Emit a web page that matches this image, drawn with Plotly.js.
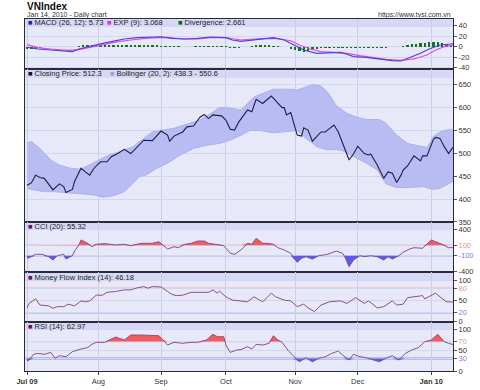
<!DOCTYPE html>
<html><head><meta charset="utf-8">
<script src="https://cdn.plot.ly/plotly-3.0.1.min.js"></script>
<style>html,body{margin:0;padding:0;background:#fff}#chart{width:480px;height:390px}</style>
</head><body><div id="chart"></div>
<script>
// ---- data (x given as day offsets from 2009-07-01) ----
const priceDay = [0,2,4,6,8,10,12,15,17,18,21,22,25,27,29,31,34,37,39,42,45,48,51,54,58,62,65,66,68,72,74,77,80,82,84,86,90,92,94,96,98,102,104,106,109,111,113,115,118,119,120,122,124,125,127,128,130,132,136,138,139,142,144,146,149,151,153,156,158,159,162,165,167,169,171,173,174,176,179,182,183,185,188,189,191,193,195,197];
const closePrice = [430,435,452,447,445,433,420,433,427,414,421,438,467,459,452,467,481,481,492,499,508,499,514,528,527,548,539,526,537,546,557,559,578,584,575,583,581,572,552,550,568,594,590,617,608,617,624,614,599,599,583,588,554,539,537,555,550,526,546,546,550,561,546,522,485,498,515,499,496,498,474,445,459,456,436,452,463,472,494,483,494,494,530,534,532,514,499,512.3];
const upperDay = [0,2,6,11,15,20,25,29,34,38,43,49,54,58,63,68,74,80,85,89,92,99,105,111,114,122,125,129,132,136,139,143,148,152,157,163,166,171,176,180,185,188,191,196,197];
const upperBand = [522,525,510,485,474,467,465,474,486,496,503,514,532,546,550,554,563,572,586,599,599,594,622,633,639,639,637,644,649,646,633,604,586,579,573,573,565,539,521,517,512,536,546,552,550.6];
const lowerDay = [0,3,8,12,18,25,31,35,40,45,49,52,55,60,65,71,77,83,89,94,99,103,108,114,120,125,129,134,139,143,146,151,157,162,166,171,177,183,188,191,194,197];
const lowerBand = [423,420,416,416,414,412,409,404,407,416,434,449,452,467,478,496,510,517,521,528,539,549,549,544,546,549,532,514,507,508,505,492,478,463,433,425,425,427,421,423,430,438.3];

const macdDay = [0,5,11,18,21,24,30,35,39,45,51,58,62,67,73,79,85,92,95,99,105,109,114,119,123,128,134,140,145,148,151,157,163,169,173,177,182,186,191,196,197];
const macdLine = [-1,-4.4,-6.3,-8.2,-9.5,-4.4,1.9,6.3,9.5,14.7,17.1,19,19,16,14.7,16,18.5,17.1,12.8,10,12.8,16,17.1,12.8,4.4,-6.3,-12.6,-11.4,-10.7,-14.5,-19,-20.2,-23.4,-26.7,-27.2,-21,-12.6,-4.4,3.2,5.1,5.73];
const sigDay = [0,5,11,19,24,30,36,42,48,55,61,65,72,79,85,92,96,99,105,111,115,122,126,131,136,142,148,154,160,166,173,179,185,189,193,197];
const sigLine = [4,-1.9,-4.4,-6.9,-5.7,-0.6,4.4,9.5,12.8,16,17.1,17.8,14.7,14.7,17.1,17.1,14.7,12.8,14.7,16,16,11.4,3.2,-4.4,-9.5,-10.7,-12.6,-17.1,-20.2,-24,-25.9,-23.4,-15.8,-6.3,0,3.07];
const divDay = [0,2,4,6,8,10,12,14,16,18,20,22,24,26,28,30,32,34,36,38,40,42,44,46,48,50,52,54,56,58,60,62,64,66,68,70,72,74,76,78,80,82,84,86,88,90,92,94,96,98,100,102,104,106,108,110,112,114,116,118,120,122,124,126,128,130,132,134,136,138,140,142,144,146,148,150,152,154,156,158,160,162,164,166,168,170,172,174,176,178,180,182,184,186,188,190,192,194,196];
const divergence = [-5,-4.5,-4,-2,-1.5,-1.5,-1.5,-1.5,-1.5,-1.5,
 -1.5,-1,1.5,2.5,3,3,3,3.5,3.5,3.5,
 3.5,3.5,3,3,3,3,3,2.5,2.5,2.5,
 2.5,2,1.5,1,1,0.5,-0.5,0.3,0.3,0.5,
 1,1,1.5,1,1,0.5,0.5,-2,-2.5,-2.5,
 -1,-0.5,1.5,2.5,3,3,2.5,2,1.5,-0.5,
 -1.5,-4,-7,-9,-10,-9,-7,-4,-3,-3,
 -2.5,-2,-2,-2.5,-2.5,-2.5,-2.5,-2,-2,-2,
 -2,-2,-2,-2,-1.5,-1.5,-1,2,3.5,4.5,
 5.5,6.5,7.5,8.5,9.5,9,7,5,2.66];

const cciDay = [0,1,4,7,10,12,14,17,18,21,22,24,25,28,30,32,36,41,45,48,53,58,61,63,65,68,70,73,76,79,82,84,87,91,94,96,99,102,104,106,109,111,114,116,119,122,125,127,129,132,135,139,143,146,147,149,151,154,156,159,162,165,167,169,172,174,177,179,183,185,187,189,192,195,197];
const cciVal = [-148,-137,-72,-72,-118,-181,-99,-72,-162,-99,-10,105,200,137,72,118,130,105,118,91,137,137,167,105,28,72,53,118,137,180,180,137,118,91,-53,-72,10,137,118,232,137,137,118,53,10,-53,-224,-148,-118,-162,-99,-72,-10,-53,-120,-308,-181,-99,-118,-99,-118,-181,-118,-162,-99,-34,28,53,42,118,200,167,118,53,55.32];
const mfiDay = [0,1,4,6,10,12,14,17,19,22,25,27,29,32,35,37,41,45,48,51,54,56,58,62,65,67,69,72,76,80,84,86,88,89,92,95,99,102,105,109,111,113,115,119,122,125,128,130,133,136,140,145,148,152,156,158,162,165,169,171,174,176,179,183,184,186,189,191,194,197];
const mfiVal = [32,43,54,39,37,31,35,35,41,37,49,47,49,63,63,70,72,76,76,81,84,80,84,83,72,65,62,63,70,70,70,76,68,73,59,51,48,47,59,47,57,68,59,51,49,35,41,32,23,39,47,49,43,57,43,49,32,35,49,39,41,57,59,62,54,59,68,59,47,46.18];
const rsiDay = [0,1,3,5,8,11,13,15,18,21,25,28,30,32,36,38,41,45,48,53,58,61,63,65,68,72,76,79,83,86,88,91,92,94,97,99,102,104,106,109,112,114,116,118,121,123,126,129,132,135,138,141,144,146,149,151,154,157,160,163,166,169,172,175,178,181,184,187,190,193,195,197];
const rsiVal = [23.8,26,39.7,42,39.7,44.4,30.2,36.5,34,46,52.4,55.6,63.5,68.3,68.3,73.8,81,73.8,85.7,85.7,85.7,84,73.8,61.9,68.3,66,68.3,68.3,73.8,87.3,81.7,81.7,61.9,44.4,50,51,57.9,52.4,63.5,61.9,66,84,73.8,68.3,47.6,38,22,31.7,22,30.2,34,42,47.6,38,26,39.7,34,31.7,26,22,30.2,36.5,26,42,50,55.6,69.8,73.8,87.3,69.8,66,62.97];

const monthTickDay = [0,33,62,92,124,153,187];
const monthTickText = ['<b>Jul 09</b>','Aug','Sep','Oct','Nov','Dec','<b>Jan 10</b>'];

// ---- helpers ----
const BASE = Date.UTC(2009,6,1);
function day(d){ return new Date(BASE + d*86400000).toISOString().replace('T',' ').slice(0,19); }
const dates = a => a.map(day);
const X = px => (px-25)/428, Y = py => (371-py)/352;

const RED='#f25c5c', BLUE='#5a5aee', LRED='#f09090', LBLUE='#7c7ce6', IND='#8a4f92';

function fillTraces(days, vals, level, above, color, xa, ya){
  const xs = dates(days);
  return [
    {x:xs, y:days.map(()=>level), mode:'lines', line:{width:0,color:color}, xaxis:xa, yaxis:ya, hoverinfo:'skip', showlegend:false},
    {x:xs, y:vals.map(v=>above?Math.max(v,level):Math.min(v,level)), mode:'lines', line:{width:0,color:color},
     fill:'tonexty', fillcolor:color, xaxis:xa, yaxis:ya, hoverinfo:'skip', showlegend:false}
  ];
}

const traces = [];
// MACD panel
traces.push({type:'bar', x:dates(divDay), y:divergence, marker:{color:'#0b7a0b'}, width:1.1*86400000, xaxis:'x', yaxis:'y'});
traces.push({x:dates(sigDay), y:sigLine, mode:'lines', line:{color:'#e846e8',width:1.2}, xaxis:'x', yaxis:'y'});
traces.push({x:dates(macdDay), y:macdLine, mode:'lines', line:{color:'#4646d8',width:1.2}, xaxis:'x', yaxis:'y'});
// Price panel
traces.push({x:dates(upperDay).concat(dates(lowerDay).reverse()), y:upperBand.concat(lowerBand.slice().reverse()),
  mode:'lines', fill:'toself', fillcolor:'#b9bbf3', line:{color:'#adb0f0',width:1}, xaxis:'x2', yaxis:'y2'});
traces.push({x:dates(priceDay), y:closePrice, mode:'lines', line:{color:'#1e1e4a',width:1.1}, xaxis:'x2', yaxis:'y2'});
// CCI
traces.push(...fillTraces(cciDay, cciVal, 100, true, RED, 'x3','y3'));
traces.push(...fillTraces(cciDay, cciVal, -100, false, BLUE, 'x3','y3'));
traces.push({x:dates(cciDay), y:cciVal, mode:'lines', line:{color:IND,width:1}, xaxis:'x3', yaxis:'y3'});
// MFI
traces.push({x:dates(mfiDay), y:mfiVal, mode:'lines', line:{color:IND,width:1}, xaxis:'x4', yaxis:'y4'});
// RSI
traces.push(...fillTraces(rsiDay, rsiVal, 70, true, RED, 'x5','y5'));
traces.push(...fillTraces(rsiDay, rsiVal, 30, false, BLUE, 'x5','y5'));
traces.push({x:dates(rsiDay), y:rsiVal, mode:'lines', line:{color:IND,width:1}, xaxis:'x5', yaxis:'y5'});
traces.forEach(t=>{t.showlegend=false; t.hoverinfo='skip';});

const FONT = 'Liberation Sans, Arial, sans-serif';
const xr = [day(-0.93), day(197.05)];
function xax(anchor, show){
  return {type:'date', range:xr, anchor:anchor, domain:[0,1], matches: anchor==='y'?undefined:'x',
    tickvals:dates(monthTickDay), ticktext:monthTickText, showticklabels:show,
    ticks: show?'outside':'', ticklen:3, tickcolor:'#444',
    tickfont:{size:7.5,color:'#333',family:FONT},
    showgrid:true, gridcolor:'#c9cde9', gridwidth:1, zeroline:false,
    showline:true, linecolor:'#2a2a3a', linewidth:1, mirror:true, fixedrange:true};
}
function yax(anchor, dom, range, vals, text){
  return {anchor:anchor, domain:dom, range:range, side:'right', tickvals:vals, ticktext:text||vals.map(String),
    ticks:'outside', ticklen:3, tickcolor:'#555', tickfont:{size:7.5,color:'#333',family:FONT},
    showgrid:true, gridcolor:'#d3d6ef', gridwidth:1, zeroline:false,
    showline:true, linecolor:'#2a2a3a', linewidth:1, mirror:true, fixedrange:true};
}
const col = (t,c)=>'<span style="color:'+c+'">'+t+'</span>';

const layout = {
  width:480, height:390, margin:{l:25,r:27,t:19,b:19},
  paper_bgcolor:'#ffffff', plot_bgcolor:'#e7e9f9', showlegend:false,
  font:{family:FONT, size:7.5, color:'#222'},
  bargap:0,
  xaxis: xax('y', false), xaxis2: xax('y2', false), xaxis3: xax('y3', false), xaxis4: xax('y4', false), xaxis5: xax('y5', true),
  yaxis: yax('x', [0.858,1], [-42.5,52.8], [-40,-20,0,20,40]),
  yaxis2: yax('x2', [0.4233,0.858], [350,683], [350,400,450,500,550,600,650]),
  yaxis3: yax('x3', [0.28125,0.4233], [-408,541], [-400,-100,100,400], ['-400',col('-100',LBLUE),col('100',LRED),'400']),
  yaxis4: yax('x4', [0.1392,0.28125], [-2.4,119.5], [0,20,50,80,100], ['0',col('20',LBLUE),'50',col('80',LRED),'100']),
  yaxis5: yax('x5', [0,0.1392], [0,116.7], [0,30,50,70,100], ['0',col('30',LBLUE),'50',col('70',LRED),'100']),
  shapes: [
    // legend strips
    {type:'rect', xref:'x domain', yref:'y domain', x0:0, x1:1, y0:0.84, y1:1, fillcolor:'#d6d8f6', line:{width:0}, layer:'below'},
    {type:'rect', xref:'x2 domain', yref:'y2 domain', x0:0, x1:1, y0:0.941, y1:1, fillcolor:'#d6d8f6', line:{width:0}, layer:'below'},
    {type:'rect', xref:'x3 domain', yref:'y3 domain', x0:0, x1:1, y0:0.84, y1:1, fillcolor:'#d6d8f6', line:{width:0}, layer:'below'},
    {type:'rect', xref:'x4 domain', yref:'y4 domain', x0:0, x1:1, y0:0.82, y1:1, fillcolor:'#d6d8f6', line:{width:0}, layer:'below'},
    {type:'rect', xref:'x5 domain', yref:'y5 domain', x0:0, x1:1, y0:0.837, y1:1, fillcolor:'#d6d8f6', line:{width:0}, layer:'below'},
    // level lines
    {type:'line', xref:'x3 domain', yref:'y3', x0:0, x1:1, y0:100, y1:100, line:{color:LRED,width:1}, layer:'below'},
    {type:'line', xref:'x3 domain', yref:'y3', x0:0, x1:1, y0:-100, y1:-100, line:{color:LBLUE,width:1}, layer:'below'},
    {type:'line', xref:'x4 domain', yref:'y4', x0:0, x1:1, y0:80, y1:80, line:{color:LRED,width:1}, layer:'below'},
    {type:'line', xref:'x4 domain', yref:'y4', x0:0, x1:1, y0:20, y1:20, line:{color:LBLUE,width:1}, layer:'below'},
    {type:'line', xref:'x5 domain', yref:'y5', x0:0, x1:1, y0:70, y1:70, line:{color:LRED,width:1}, layer:'below'},
    {type:'line', xref:'x5 domain', yref:'y5', x0:0, x1:1, y0:30, y1:30, line:{color:'#a9abf2',width:2.5}, layer:'below'}
  ],
  annotations: [
    {xref:'paper', yref:'paper', x:X(25), y:Y(7), xanchor:'left', yanchor:'middle', showarrow:false, text:'<b>VNIndex</b>', font:{size:10,color:'#111',family:FONT}},
    {xref:'paper', yref:'paper', x:X(25), y:Y(15), xanchor:'left', yanchor:'middle', showarrow:false, text:'Jan 14, 2010 - Daily chart', font:{size:7,color:'#333',family:FONT}},
    {xref:'paper', yref:'paper', x:X(453), y:Y(15), xanchor:'right', yanchor:'middle', showarrow:false, text:'https://www.tvsi.com.vn', font:{size:7,color:'#333',family:FONT}},
    {xref:'paper', yref:'paper', x:X(26), y:Y(23), xanchor:'left', yanchor:'middle', showarrow:false, text:col('■','#2222bb')+' MACD (26, 12): 5.73'},
    {xref:'paper', yref:'paper', x:X(105), y:Y(23), xanchor:'left', yanchor:'middle', showarrow:false, text:col('■','#dd33dd')+' EXP (9): 3.068'},
    {xref:'paper', yref:'paper', x:X(176), y:Y(23), xanchor:'left', yanchor:'middle', showarrow:false, text:col('■','#0b6a0b')+' Divergence: 2.661'},
    {xref:'paper', yref:'paper', x:X(26), y:Y(73), xanchor:'left', yanchor:'middle', showarrow:false, text:col('■','#111133')+' Closing Price: 512.3'},
    {xref:'paper', yref:'paper', x:X(108), y:Y(73), xanchor:'left', yanchor:'middle', showarrow:false, text:col('■','#9d9fe6')+' Bollinger (20, 2): 438.3 - 550.6'},
    {xref:'paper', yref:'paper', x:X(26), y:Y(227), xanchor:'left', yanchor:'middle', showarrow:false, text:col('■','#661166')+' CCI (20): 55.32'},
    {xref:'paper', yref:'paper', x:X(26), y:Y(277), xanchor:'left', yanchor:'middle', showarrow:false, text:col('■','#661166')+' Money Flow Index (14): 46.18'},
    {xref:'paper', yref:'paper', x:X(26), y:Y(326), xanchor:'left', yanchor:'middle', showarrow:false, text:col('■','#661166')+' RSI (14): 62.97'}
  ]
};

Plotly.newPlot('chart', traces, layout, {displayModeBar:false, staticPlot:true});
</script></body></html>
